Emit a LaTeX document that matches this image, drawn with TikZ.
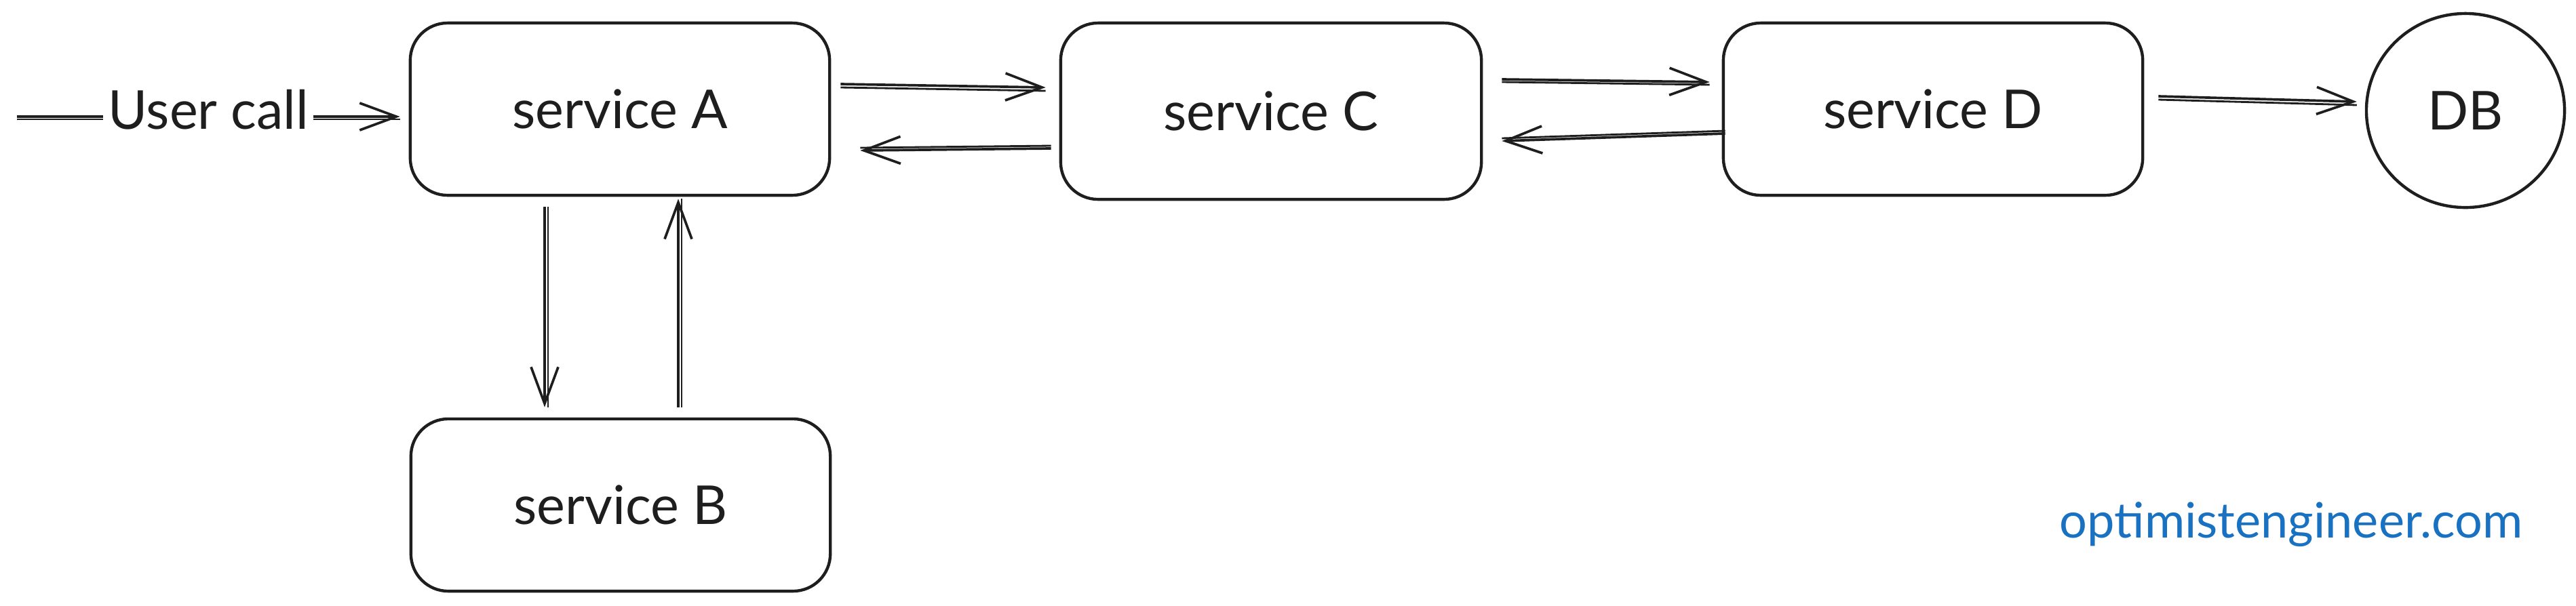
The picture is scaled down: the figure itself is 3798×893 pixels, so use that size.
\documentclass[tikz,border=0pt]{standalone}
\usepackage{fontspec}
\setmainfont{Lato}
\usetikzlibrary{arrows.meta,calc,shapes.geometric}
\definecolor{exblue}{HTML}{1971C2}
\definecolor{ink}{HTML}{1E1E1E}
\begin{document}
\begin{tikzpicture}[x=0.01cm,y=-0.01cm,
  lbl/.style={font=\fontsize{22.5}{26}\selectfont, text=ink},
  svc/.style={lbl, draw=ink, line width=1.25pt, rounded corners=0.55cm,
    minimum width=6.18cm, minimum height=2.54cm, inner sep=0pt},
  arr/.style={draw=ink, line width=1.05pt,
    -{Straight Barb[length=0.54cm,width=0.40cm]}},
  dbl/.style={postaction={draw=ink,line width=0.8pt,arrows=-,
    transform canvas={shift={#1}}}}
]
\useasboundingbox (0,0) rectangle (3798,893);

% services
\node[svc] (A) at (914,161) {service A};
\node[svc] (B) at (915,745) {service B};
\node[svc, minimum width=6.2cm, minimum height=2.6cm] (C) at (1874,164) {service C};
\node[svc] (D) at (2850,161) {service D};
\node[lbl, draw=ink, line width=1.25pt, ellipse, minimum width=2.92cm,
  minimum height=2.86cm, inner sep=0pt] (DB) at (3635,163) {DB};

% watermark
\node[font=\fontsize{20.5}{24}\selectfont, text=exblue, anchor=base] (site)
  at (3378,793) {optimistengineer.com};

% user call
\coordinate (u0) at (25,172);
\draw[arr, dbl={(0,4)}] (u0) --
  node[lbl, fill=white, inner sep=2pt, yshift=3pt] (uc) {User call}
  ($(A.west)+(-13,11)$);

% A <-> C
\draw[arr, dbl={(0,5)}] ($(A.east)+(14,-37)$) -- ($(C.west)+(-20,-35)$);
\draw[arr, dbl={(0,-4)}] ($(C.west)+(-12,55)$) -- ($(A.east)+(43,61)$);
% C <-> D
\draw[arr, dbl={(0,4)}] ($(C.east)+(28,-47)$) -- ($(D.west)+(-18,-40)$);
\draw[arr, dbl={(0,-4)}] ($(D.west)+(5,36)$) -- ($(C.east)+(28,44)$);
% D -> DB
\draw[arr, dbl={(0,5)}] ($(D.east)+(21,-19)$) -- ($(DB.west)+(-12,-13)$);
% A <-> B
\draw[arr, dbl={(5,0)}] ($(A.south)+(-111,15)$) -- ($(B.north)+(-112,-15)$);
\draw[arr, dbl={(5,0)}] ($(B.north)+(85,-15)$) -- ($(A.south)+(86,3)$);
\end{tikzpicture}
\end{document}
